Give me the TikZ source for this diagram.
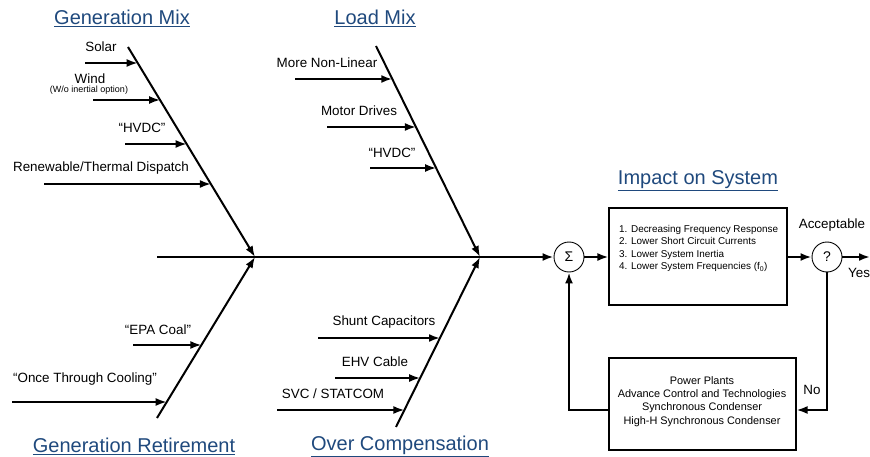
\documentclass[tikz,border=0pt]{standalone}
\usepackage{fontspec}
\setmainfont{Liberation Sans}
\usetikzlibrary{arrows.meta}
\definecolor{titleblue}{RGB}{31,73,125}
\tikzset{
  bone/.style={line width=2pt},
  rib/.style={line width=2pt,-{Latex[length=11pt,width=8pt]}},
  flow/.style={line width=2pt,-{Latex[length=11pt,width=8pt]}},
  lbl/.style={font=\fontsize{13.4}{15}\selectfont,inner sep=0pt},
  ttl/.style={font=\fontsize{20}{24}\selectfont,text=titleblue,inner sep=0pt},
  sumnode/.style={circle,draw,line width=0.9pt,minimum size=30pt,inner sep=0pt,font=\fontsize{14}{16}\selectfont},
  blk/.style={draw,line width=1.1pt,inner sep=0pt}
}
\begin{document}
\begin{tikzpicture}[x=1pt,y=-1pt]
\useasboundingbox (0,0) rectangle (870,457);
% titles
\node[ttl] (tgm) at (122,18) {\underline{Generation Mix}};
\node[ttl] (tlm) at (375,18) {\underline{Load Mix}};
\node[ttl] (tis) at (698,181) {\underline{Impact on System}};
\node[ttl] (tgr) at (134,446) {\underline{Generation Retirement}};
\node[ttl] (toc) at (400,446) {\underline{Over Compensation}};
% spine and bones
\coordinate (s0) at (157,257);
\coordinate (j1) at (255,257);
\coordinate (j2) at (480,257);
\coordinate (g1) at (128,47);
\coordinate (l1) at (376,46);
\coordinate (r1) at (157,418);
\coordinate (o1) at (396,427);
\node[sumnode] (sum) at (569,257) {Σ};
\draw[flow] (s0) -- (sum);
\draw[bone,-{Latex[length=11pt,width=8pt]}] (g1) -- (j1);
\draw[bone,-{Latex[length=11pt,width=8pt]}] (l1) -- (j2);
\draw[bone,-{Latex[length=11pt,width=8pt]}] (r1) -- (j1);
\draw[bone,-{Latex[length=11pt,width=8pt]}] (o1) -- (j2);
% Generation Mix ribs
\coordinate (a1s) at (85,63);   \coordinate (a1e) at (137.7,63);
\coordinate (a2s) at (93,100);  \coordinate (a2e) at (160.1,100);
\coordinate (a3s) at (125,144); \coordinate (a3e) at (186.7,144);
\coordinate (a4s) at (44,184);  \coordinate (a4e) at (210.9,184);
\draw[rib] (a1s) -- (a1e);
\draw[rib] (a2s) -- (a2e);
\draw[rib] (a3s) -- (a3e);
\draw[rib] (a4s) -- (a4e);
\node[lbl] (la1) at (101,47) {Solar};
\node[lbl] (la2) at (90,79) {Wind};
\node[lbl,font=\fontsize{9}{10}\selectfont] (la2b) at (89,90.5) {(W/o inertial option)};
\node[lbl] (la3) at (142,128) {“HVDC”};
\node[lbl] (la4) at (101,168) {Renewable/Thermal Dispatch};
% Load Mix ribs
\coordinate (b1s) at (295,79);  \coordinate (b1e) at (392.3,79);
\coordinate (b2s) at (327,127); \coordinate (b2e) at (415.9,127);
\coordinate (b3s) at (370,168); \coordinate (b3e) at (436.1,168);
\draw[rib] (b1s) -- (b1e);
\draw[rib] (b2s) -- (b2e);
\draw[rib] (b3s) -- (b3e);
\node[lbl] (lb1) at (327,63) {More Non-Linear};
\node[lbl] (lb2) at (359,111) {Motor Drives};
\node[lbl] (lb3) at (392,153) {“HVDC”};
% Generation Retirement ribs
\coordinate (c1s) at (133,345); \coordinate (c1e) at (201.4,345);
\coordinate (c2s) at (12,402);  \coordinate (c2e) at (166.7,402);
\draw[rib] (c1s) -- (c1e);
\draw[rib] (c2s) -- (c2e);
\node[lbl] (lc1) at (158,330) {“EPA Coal”};
\node[lbl] (lc2) at (85,379) {“Once Through Cooling”};
% Over Compensation ribs
\coordinate (d1s) at (318,338); \coordinate (d1e) at (440,338);
\coordinate (d2s) at (335,378); \coordinate (d2e) at (420.2,378);
\coordinate (d3s) at (277,410); \coordinate (d3e) at (404.4,410);
\draw[rib] (d1s) -- (d1e);
\draw[rib] (d2s) -- (d2e);
\draw[rib] (d3s) -- (d3e);
\node[lbl] (ld1) at (384,322) {Shunt Capacitors};
\node[lbl] (ld2) at (375,362) {EHV Cable};
\node[lbl] (ld3) at (333,394) {SVC / STATCOM};
% impact box
\node[blk,minimum width=178pt,minimum height=97pt] (imp) at (698,256.5) {};
\node[inner sep=0pt,anchor=north west,font=\fontsize{9.9}{12.5}\selectfont,align=left] (imptxt) at (619,225) {1. Decreasing Frequency Response\\2. Lower Short Circuit Currents\\3. Lower System Inertia\\4. Lower System Frequencies (f\textsubscript{0})};
\draw[flow] (sum) -- (sum -| imp.west);
\node[sumnode] (q) at (827,257) {?};
\draw[flow] (q -| imp.east) -- (q);
\node[lbl] (acc) at (832,225) {Acceptable};
\coordinate (yesend) at (870,257);
\draw[flow] (q) -- (yesend);
\node[lbl,anchor=west] (yes) at (848,273) {Yes};
% mitigation box
\node[blk,minimum width=187pt,minimum height=92pt] (mit) at (702.5,404) {};
\node[inner sep=0pt,font=\fontsize{10.9}{13.2}\selectfont,align=center] (mittxt) at (702,401.5) {Power Plants\\Advance Control and Technologies\\Synchronous Condenser\\High-H Synchronous Condenser};
\coordinate (fb1) at (827,410);
\coordinate (fb2) at (569,410);
\draw[flow] (q) -- (fb1) -- (fb1 -| mit.east);
\draw[flow] (fb2 -| mit.west) -- (fb2) -- (sum);
\node[lbl] (no) at (812,390) {No};
\end{tikzpicture}
\end{document}
